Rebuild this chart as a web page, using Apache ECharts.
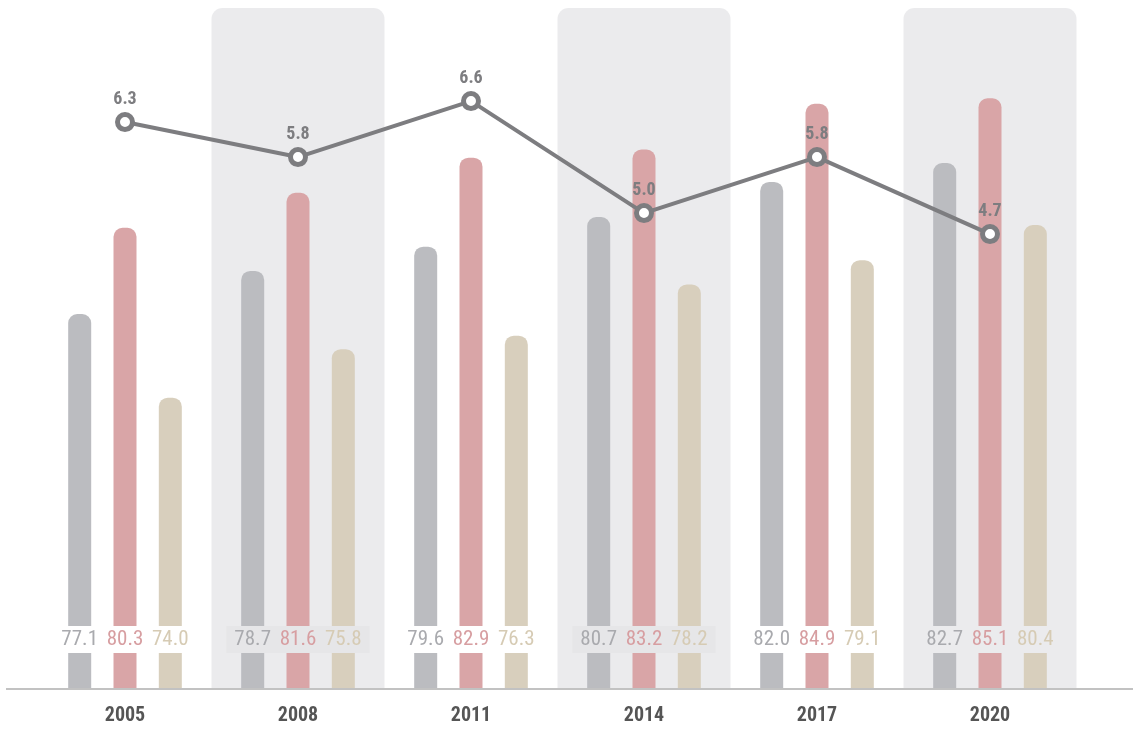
<!DOCTYPE html>
<html>
<head>
<meta charset="utf-8">
<script src="https://cdn.jsdelivr.net/npm/echarts@6/dist/echarts.min.js"></script>
<style>html,body{margin:0;padding:0;background:#fff}#c{width:1134px;height:729px}</style>
</head>
<body>
<div id="c"></div>
<script>
var categories = ['2005', '2008', '2011', '2014', '2017', '2020'];
var greyValues = [77.1, 78.7, 79.6, 80.7, 82.0, 82.7];
var pinkValues = [80.3, 81.6, 82.9, 83.2, 84.9, 85.1];
var beigeValues = [74.0, 75.8, 76.3, 78.2, 79.1, 80.4];
var lineValues = [6.3, 5.8, 6.6, 5.0, 5.8, 4.7];
var shadedBands = [0, 1, 0, 1, 0, 1];
var labelBoxColors = ['#ffffff', '#e6e6e8', '#ffffff', '#e6e6e8', '#ffffff', '#ebebed'];

var FONT = '"Roboto Condensed","Liberation Sans Narrow","DejaVu Sans Condensed",sans-serif';

function barData(values, textColor) {
  return values.map(function (v, i) {
    return {
      value: v,
      label: {
        backgroundColor: labelBoxColors[i],
        color: textColor
      }
    };
  });
}

function barSeries(name, values, color, textColor) {
  return {
    name: name,
    type: 'bar',
    xAxisIndex: 0,
    yAxisIndex: 0,
    barWidth: 23,
    barGap: '97%',
    z: 2,
    itemStyle: { color: color, borderRadius: [9, 9, 0, 0] },
    label: {
      show: true,
      position: 'insideBottom',
      distance: 36,
      fontFamily: FONT,
      fontSize: 21,
      lineHeight: 21,
      padding: [3, 8, 3, 8],
      formatter: function (p) { return p.value.toFixed(1); }
    },
    data: barData(values, textColor)
  };
}

var chart = echarts.init(document.getElementById('c'), null, { renderer: 'canvas' });
chart.setOption({
  animation: false,
  backgroundColor: '#ffffff',
  grid: { left: 38.5, right: 57.5, top: 8, bottom: 40 },
  xAxis: [
    {
      type: 'category',
      data: categories,
      axisLine: { show: false },
      axisTick: { show: false },
      axisLabel: { margin: 17, fontFamily: FONT, fontSize: 20, fontWeight: 'bold', color: '#555555' }
    },
    { type: 'category', data: categories, show: false }
  ],
  yAxis: [
    { type: 'value', min: 63.2, max: 88.45, show: false, splitLine: { show: false } },
    { type: 'value', min: -1.8, max: 7.93, show: false, splitLine: { show: false } },
    { type: 'value', min: 0, max: 1, show: false, splitLine: { show: false } }
  ],
  graphic: [
    {
      type: 'line',
      shape: { x1: 6, y1: 689, x2: 1133, y2: 689 },
      style: { stroke: '#c2c2c2', lineWidth: 2 },
      z: 10,
      silent: true
    }
  ],
  series: [
    {
      type: 'bar',
      xAxisIndex: 1,
      yAxisIndex: 2,
      barWidth: '100%',
      silent: true,
      z: 0,
      itemStyle: { color: '#ebebed', borderRadius: [11, 11, 0, 0] },
      data: shadedBands.map(function (b) { return b ? 1 : null; })
    },
    barSeries('grey', greyValues, '#bbbcc0', '#a9aaae'),
    barSeries('pink', pinkValues, '#d9a5a7', '#d79ea1'),
    barSeries('beige', beigeValues, '#d8cfbd', '#d6cbb4'),
    {
      type: 'line',
      xAxisIndex: 0,
      yAxisIndex: 1,
      z: 5,
      symbol: 'circle',
      symbolSize: 15,
      lineStyle: { color: '#7d7d80', width: 4 },
      itemStyle: { color: '#ffffff', borderColor: '#7d7d80', borderWidth: 5 },
      label: {
        show: true,
        position: 'top',
        distance: 4,
        fontFamily: FONT,
        fontSize: 18,
        fontWeight: 'bold',
        color: '#7d7d80',
        formatter: function (p) { return p.value.toFixed(1); }
      },
      data: lineValues
    }
  ]
});
</script>
</body>
</html>
